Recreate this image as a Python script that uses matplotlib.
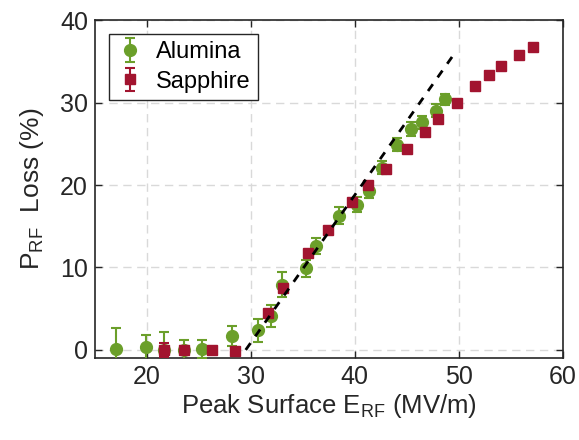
import matplotlib
matplotlib.use("Agg")
import matplotlib.pyplot as plt

plt.rcParams["font.family"] = ["Liberation Sans", "DejaVu Sans"]

# Alumina measurements
alumina_e = [17.0, 19.9, 21.6, 23.6, 25.3, 28.2, 30.7, 31.9, 33.0, 35.3,
             36.3, 38.5, 40.2, 41.35, 42.6, 44.1, 45.4, 46.5, 47.8, 48.7]
alumina_loss = [0.1, 0.3, 0.0, 0.0, 0.1, 1.7, 2.4, 4.1, 7.9, 9.9,
                12.6, 16.3, 17.6, 19.3, 22.1, 24.9, 26.8, 27.6, 29.0, 30.4]
alumina_err = [2.6, 1.5, 2.2, 1.2, 1.1, 1.2, 1.4, 1.3, 1.5, 1.0,
               1.0, 1.0, 0.9, 0.9, 0.8, 0.8, 0.8, 0.8, 0.8, 0.7]

# Sapphire measurements
sapphire_e = [21.6, 23.6, 26.3, 28.5, 31.6, 33.1, 35.45, 37.4, 39.7, 41.3,
              43.0, 45.0, 46.7, 47.95, 49.8, 51.6, 52.95, 54.07, 55.8, 57.1]
sapphire_loss = [0.0, 0.0, 0.0, -0.1, 4.5, 7.5, 11.8, 14.6, 17.9, 20.0,
                 22.0, 24.4, 26.5, 28.0, 30.0, 32.0, 33.3, 34.4, 35.8, 36.7]
sapphire_err = [0.8, 0.5, 0.3, 0.3, 0.3, 0.3, 0.3, 0.3, 0.3, 0.3,
                0.3, 0.3, 0.3, 0.3, 0.3, 0.3, 0.3, 0.3, 0.3, 0.3]

# linear fit guide
fit_e = [29.5, 49.6]
fit_loss = [0.0, 36.0]

green = "#6B9F2A"
red = "#A2142F"
dark = "#262626"

fig = plt.figure(figsize=(5.79, 4.40), dpi=100)
ax = fig.add_axes([0.164, 0.186, 0.808, 0.768])

ax.errorbar(alumina_e, alumina_loss, yerr=alumina_err, fmt="o", color=green,
            markersize=8.5, capsize=3.5, elinewidth=1.5, capthick=1.5,
            label="Alumina", zorder=3)
ax.errorbar(sapphire_e, sapphire_loss, yerr=sapphire_err, fmt="s", color=red,
            markersize=7, capsize=3.5, elinewidth=1.5, capthick=1.5,
            label="Sapphire", zorder=4)
ax.plot(fit_e, fit_loss, "--", color="black", linewidth=2, dashes=(3, 3), zorder=5)

ax.set_xlim(15, 60)
ax.set_ylim(-1, 40)
ax.set_xticks([20, 30, 40, 50, 60])
ax.set_yticks([0, 10, 20, 30, 40])
ax.grid(True, linestyle=(0, (6, 4)), color="#d9d9d9", linewidth=1)
ax.set_axisbelow(True)

ax.tick_params(direction="in", top=True, right=True, length=5, width=1,
               labelsize=18, colors=dark, pad=5)
for spine in ax.spines.values():
    spine.set_color(dark)
    spine.set_linewidth(1.2)

ax.set_xlabel("Peak Surface E$_{\\mathregular{RF}}$ (MV/m)", fontsize=18.5,
              color=dark, labelpad=2)
ax.set_ylabel("P$_{\\mathregular{RF}}$  Loss (%)", fontsize=19, color=dark,
              labelpad=10)

leg = ax.legend(loc="upper left", fontsize=17, frameon=True, fancybox=False,
                borderaxespad=0.6, handletextpad=0.5, borderpad=0.3,
                handlelength=1.2, labelspacing=0.3)
leg.get_frame().set_edgecolor(dark)
leg.get_frame().set_linewidth(1)
leg.get_frame().set_alpha(1)

fig.savefig("out.png", dpi=100)
